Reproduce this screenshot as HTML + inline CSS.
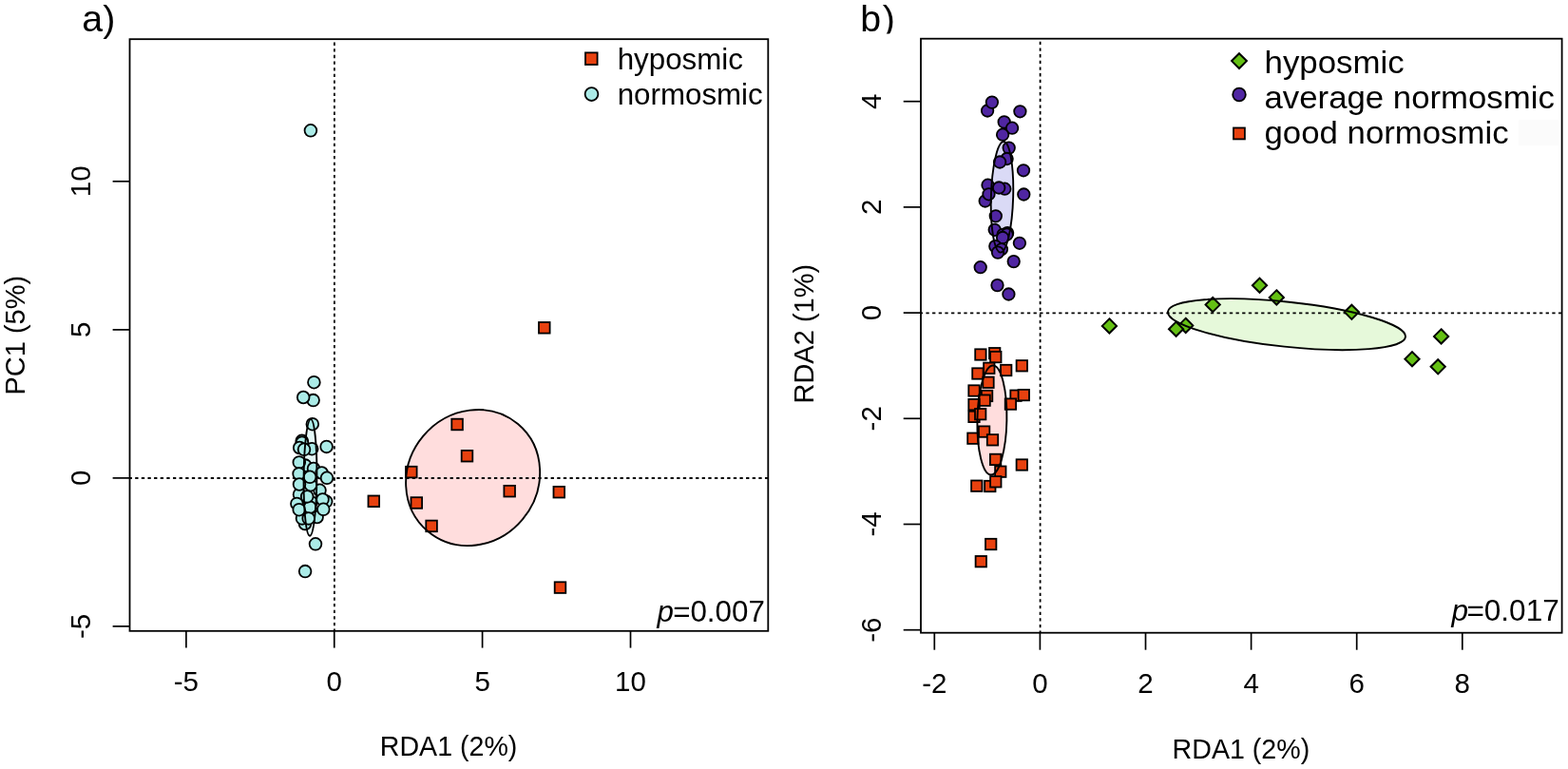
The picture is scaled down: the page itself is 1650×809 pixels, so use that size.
<!DOCTYPE html><html><head><meta charset="utf-8"><title>RDA plots</title>
<style>html,body{margin:0;padding:0;background:#fff;overflow:hidden;}svg{display:block;}text{font-family:'Liberation Sans', Arial, Helvetica, sans-serif;fill:#000;}</style></head><body>
<svg width="1650" height="809" viewBox="0 0 1650 809">
<defs>
<clipPath id="ca"><rect x="136.5" y="41.2" width="671.8" height="622.6"/></clipPath>
<clipPath id="cb"><rect x="969.0" y="40.7" width="674.6" height="625.0"/></clipPath>
<clipPath id="clb"><rect x="880" y="0" width="80" height="35.4"/></clipPath>
</defs>
<rect width="1650" height="809" fill="#fff"/>
<g clip-path="url(#ca)">
<ellipse cx="326.5" cy="502.4" rx="6.9" ry="61.3" transform="rotate(0.5 326.5 502.4)" fill="#e6f9f8"/>
<ellipse cx="497.65" cy="502.55" rx="73.7" ry="68.2" transform="rotate(-50 497.65 502.55)" fill="#ffdddd"/>
<line x1="351.9" y1="37.97" x2="351.9" y2="670.43" stroke="#000" stroke-width="1.8" stroke-dasharray="3.3 3.3340"/>
<line x1="135.59" y1="503.0" x2="814.93" y2="503.0" stroke="#000" stroke-width="1.8" stroke-dasharray="3.3 3.3275"/>
<circle cx="326.9" cy="137.3" r="6.35" fill="#abebe7" stroke="#000" stroke-width="1.8"/>
<circle cx="330.4" cy="402.2" r="6.35" fill="#abebe7" stroke="#000" stroke-width="1.8"/>
<circle cx="329.6" cy="421.1" r="6.35" fill="#abebe7" stroke="#000" stroke-width="1.8"/>
<circle cx="319.2" cy="418.0" r="6.35" fill="#abebe7" stroke="#000" stroke-width="1.8"/>
<circle cx="328.8" cy="446.2" r="6.35" fill="#abebe7" stroke="#000" stroke-width="1.8"/>
<circle cx="317.7" cy="463.8" r="6.35" fill="#abebe7" stroke="#000" stroke-width="1.8"/>
<circle cx="317.9" cy="465.6" r="6.35" fill="#abebe7" stroke="#000" stroke-width="1.8"/>
<circle cx="315.2" cy="471.0" r="6.35" fill="#abebe7" stroke="#000" stroke-width="1.8"/>
<circle cx="328.2" cy="472.2" r="6.35" fill="#abebe7" stroke="#000" stroke-width="1.8"/>
<circle cx="320.0" cy="472.8" r="6.35" fill="#abebe7" stroke="#000" stroke-width="1.8"/>
<circle cx="343.6" cy="469.9" r="6.35" fill="#abebe7" stroke="#000" stroke-width="1.8"/>
<circle cx="321.2" cy="489.6" r="6.35" fill="#abebe7" stroke="#000" stroke-width="1.8"/>
<circle cx="314.8" cy="486.4" r="6.35" fill="#abebe7" stroke="#000" stroke-width="1.8"/>
<circle cx="330.0" cy="493.0" r="6.35" fill="#abebe7" stroke="#000" stroke-width="1.8"/>
<circle cx="314.6" cy="498.4" r="6.35" fill="#abebe7" stroke="#000" stroke-width="1.8"/>
<circle cx="329.5" cy="540.0" r="6.35" fill="#abebe7" stroke="#000" stroke-width="1.8"/>
<circle cx="321.0" cy="551.0" r="6.35" fill="#abebe7" stroke="#000" stroke-width="1.8"/>
<circle cx="315.0" cy="520.2" r="6.35" fill="#abebe7" stroke="#000" stroke-width="1.8"/>
<circle cx="312.4" cy="529.9" r="6.35" fill="#abebe7" stroke="#000" stroke-width="1.8"/>
<circle cx="338.6" cy="497.5" r="6.35" fill="#abebe7" stroke="#000" stroke-width="1.8"/>
<circle cx="336.5" cy="515.8" r="6.35" fill="#abebe7" stroke="#000" stroke-width="1.8"/>
<circle cx="343.2" cy="527.6" r="6.35" fill="#abebe7" stroke="#000" stroke-width="1.8"/>
<circle cx="327.6" cy="528.4" r="6.35" fill="#abebe7" stroke="#000" stroke-width="1.8"/>
<circle cx="326.2" cy="533.6" r="6.35" fill="#abebe7" stroke="#000" stroke-width="1.8"/>
<circle cx="333.6" cy="544.0" r="6.35" fill="#abebe7" stroke="#000" stroke-width="1.8"/>
<circle cx="318.0" cy="545.4" r="6.35" fill="#abebe7" stroke="#000" stroke-width="1.8"/>
<circle cx="326.9" cy="510.2" r="6.35" fill="#abebe7" stroke="#000" stroke-width="1.8"/>
<circle cx="315.0" cy="509.5" r="6.35" fill="#abebe7" stroke="#000" stroke-width="1.8"/>
<circle cx="344.0" cy="502.8" r="6.35" fill="#abebe7" stroke="#000" stroke-width="1.8"/>
<circle cx="326.1" cy="501.8" r="6.35" fill="#abebe7" stroke="#000" stroke-width="1.8"/>
<circle cx="323.2" cy="522.4" r="6.35" fill="#abebe7" stroke="#000" stroke-width="1.8"/>
<circle cx="339.5" cy="525.4" r="6.35" fill="#abebe7" stroke="#000" stroke-width="1.8"/>
<circle cx="314.7" cy="536.2" r="6.35" fill="#abebe7" stroke="#000" stroke-width="1.8"/>
<circle cx="340.3" cy="535.8" r="6.35" fill="#abebe7" stroke="#000" stroke-width="1.8"/>
<circle cx="324.7" cy="545.4" r="6.35" fill="#abebe7" stroke="#000" stroke-width="1.8"/>
<circle cx="332.0" cy="572.3" r="6.35" fill="#abebe7" stroke="#000" stroke-width="1.8"/>
<circle cx="321.1" cy="601.1" r="6.35" fill="#abebe7" stroke="#000" stroke-width="1.8"/>
<rect x="567.0" y="339.0" width="11.6" height="11.6" fill="#e8410f" stroke="#000" stroke-width="1.8"/>
<rect x="475.3" y="440.7" width="11.6" height="11.6" fill="#e8410f" stroke="#000" stroke-width="1.8"/>
<rect x="485.7" y="473.9" width="11.6" height="11.6" fill="#e8410f" stroke="#000" stroke-width="1.8"/>
<rect x="427.0" y="490.8" width="11.6" height="11.6" fill="#e8410f" stroke="#000" stroke-width="1.8"/>
<rect x="530.4" y="510.9" width="11.6" height="11.6" fill="#e8410f" stroke="#000" stroke-width="1.8"/>
<rect x="582.5" y="511.9" width="11.6" height="11.6" fill="#e8410f" stroke="#000" stroke-width="1.8"/>
<rect x="387.5" y="521.5" width="11.6" height="11.6" fill="#e8410f" stroke="#000" stroke-width="1.8"/>
<rect x="432.5" y="523.2" width="11.6" height="11.6" fill="#e8410f" stroke="#000" stroke-width="1.8"/>
<rect x="448.3" y="547.6" width="11.6" height="11.6" fill="#e8410f" stroke="#000" stroke-width="1.8"/>
<rect x="583.7" y="612.3" width="11.6" height="11.6" fill="#e8410f" stroke="#000" stroke-width="1.8"/>
<ellipse cx="326.5" cy="502.4" rx="6.9" ry="61.3" transform="rotate(0.5 326.5 502.4)" fill="none" stroke="#000" stroke-width="1.9"/>
<ellipse cx="497.65" cy="502.55" rx="73.7" ry="68.2" transform="rotate(-50 497.65 502.55)" fill="none" stroke="#000" stroke-width="1.9"/>
</g>
<rect x="136.5" y="41.2" width="671.8" height="622.6" fill="none" stroke="#000" stroke-width="1.8"/>
<line x1="118.6" y1="190.8" x2="136.5" y2="190.8" stroke="#000" stroke-width="1.7"/>
<text x="95.2" y="190.8" font-size="29.5" text-anchor="middle" transform="rotate(-90 95.2 190.8)">10</text>
<line x1="118.6" y1="346.9" x2="136.5" y2="346.9" stroke="#000" stroke-width="1.7"/>
<text x="95.2" y="346.9" font-size="29.5" text-anchor="middle" transform="rotate(-90 95.2 346.9)">5</text>
<line x1="118.6" y1="502.9" x2="136.5" y2="502.9" stroke="#000" stroke-width="1.7"/>
<text x="95.2" y="502.9" font-size="29.5" text-anchor="middle" transform="rotate(-90 95.2 502.9)">0</text>
<line x1="118.6" y1="658.9" x2="136.5" y2="658.9" stroke="#000" stroke-width="1.7"/>
<text x="95.2" y="658.9" font-size="29.5" text-anchor="middle" transform="rotate(-90 95.2 658.9)">-5</text>
<line x1="195.9" y1="663.8" x2="195.9" y2="681.6" stroke="#000" stroke-width="1.7"/>
<text x="195.9" y="727.0" font-size="29.5" text-anchor="middle">-5</text>
<line x1="351.75" y1="663.8" x2="351.75" y2="681.6" stroke="#000" stroke-width="1.7"/>
<text x="351.75" y="727.0" font-size="29.5" text-anchor="middle">0</text>
<line x1="507.6" y1="663.8" x2="507.6" y2="681.6" stroke="#000" stroke-width="1.7"/>
<text x="507.6" y="727.0" font-size="29.5" text-anchor="middle">5</text>
<line x1="663.5" y1="663.8" x2="663.5" y2="681.6" stroke="#000" stroke-width="1.7"/>
<text x="663.5" y="727.0" font-size="29.5" text-anchor="middle">10</text>
<text x="472.1" y="795.4" font-size="28.6" text-anchor="middle">RDA1 (2%)</text>
<text x="26.3" y="352.7" font-size="29" text-anchor="middle" transform="rotate(-90 26.3 352.7)">PC1 (5%)</text>
<text x="86.3" y="33.3" font-size="39.3">a)</text>
<rect x="616.0" y="55.4" width="12.6" height="12.6" fill="#e8410f" stroke="#000" stroke-width="1.8"/>
<circle cx="622.5" cy="99.1" r="6.9" fill="#abebe7" stroke="#000" stroke-width="1.8"/>
<text x="649.7" y="73.0" font-size="31.3">hyposmic</text>
<text x="649.7" y="110.0" font-size="31.3">normosmic</text>
<text x="804.8" y="654.3" font-size="31.3" text-anchor="end"><tspan font-style="italic">p</tspan><tspan dx="-0.8">=0.007</tspan></text>
<g clip-path="url(#cb)">
<ellipse cx="1054.5" cy="207.3" rx="11.65" ry="58.3" transform="rotate(1.67 1054.5 207.3)" fill="#dadaf6"/>
<ellipse cx="1043.9" cy="442.0" rx="15.5" ry="57.5" transform="rotate(1.1 1043.9 442)" fill="#ffdddd"/>
<ellipse cx="1354" cy="341.2" rx="125.7" ry="23.6" transform="rotate(6.06 1354 341.2)" fill="#e6f9da"/>
<line x1="1094.6" y1="37.11" x2="1094.6" y2="672.37" stroke="#000" stroke-width="1.8" stroke-dasharray="3.3 3.3650"/>
<line x1="967.75" y1="329.3" x2="1650.26" y2="329.3" stroke="#000" stroke-width="1.8" stroke-dasharray="3.3 3.3554"/>
<circle cx="1039.1" cy="116.5" r="6.25" fill="#5026a2" stroke="#000" stroke-width="1.8"/>
<circle cx="1043.9" cy="107.6" r="6.25" fill="#5026a2" stroke="#000" stroke-width="1.8"/>
<circle cx="1073.4" cy="117.3" r="6.25" fill="#5026a2" stroke="#000" stroke-width="1.8"/>
<circle cx="1056.7" cy="128.4" r="6.25" fill="#5026a2" stroke="#000" stroke-width="1.8"/>
<circle cx="1065.1" cy="134.7" r="6.25" fill="#5026a2" stroke="#000" stroke-width="1.8"/>
<circle cx="1055.1" cy="141.7" r="6.25" fill="#5026a2" stroke="#000" stroke-width="1.8"/>
<circle cx="1061.7" cy="155.6" r="6.25" fill="#5026a2" stroke="#000" stroke-width="1.8"/>
<circle cx="1059.6" cy="167.0" r="6.25" fill="#5026a2" stroke="#000" stroke-width="1.8"/>
<circle cx="1052.1" cy="170.5" r="6.25" fill="#5026a2" stroke="#000" stroke-width="1.8"/>
<circle cx="1077.0" cy="179.3" r="6.25" fill="#5026a2" stroke="#000" stroke-width="1.8"/>
<circle cx="1039.5" cy="194.7" r="6.25" fill="#5026a2" stroke="#000" stroke-width="1.8"/>
<circle cx="1057.3" cy="198.7" r="6.25" fill="#5026a2" stroke="#000" stroke-width="1.8"/>
<circle cx="1051.2" cy="197.5" r="6.25" fill="#5026a2" stroke="#000" stroke-width="1.8"/>
<circle cx="1036.7" cy="211.5" r="6.25" fill="#5026a2" stroke="#000" stroke-width="1.8"/>
<circle cx="1040.5" cy="204.3" r="6.25" fill="#5026a2" stroke="#000" stroke-width="1.8"/>
<circle cx="1077.3" cy="204.5" r="6.25" fill="#5026a2" stroke="#000" stroke-width="1.8"/>
<circle cx="1047.8" cy="227.3" r="6.25" fill="#5026a2" stroke="#000" stroke-width="1.8"/>
<circle cx="1046.7" cy="241.8" r="6.25" fill="#5026a2" stroke="#000" stroke-width="1.8"/>
<circle cx="1060.1" cy="245.1" r="6.25" fill="#5026a2" stroke="#000" stroke-width="1.8"/>
<circle cx="1055.6" cy="246.8" r="6.25" fill="#5026a2" stroke="#000" stroke-width="1.8"/>
<circle cx="1059.5" cy="246.7" r="6.25" fill="#5026a2" stroke="#000" stroke-width="1.8"/>
<circle cx="1055.1" cy="250.0" r="6.25" fill="#5026a2" stroke="#000" stroke-width="1.8"/>
<circle cx="1072.9" cy="255.8" r="6.25" fill="#5026a2" stroke="#000" stroke-width="1.8"/>
<circle cx="1047.3" cy="259.1" r="6.25" fill="#5026a2" stroke="#000" stroke-width="1.8"/>
<circle cx="1053.9" cy="262.3" r="6.25" fill="#5026a2" stroke="#000" stroke-width="1.8"/>
<circle cx="1050.0" cy="265.6" r="6.25" fill="#5026a2" stroke="#000" stroke-width="1.8"/>
<circle cx="1066.7" cy="275.1" r="6.25" fill="#5026a2" stroke="#000" stroke-width="1.8"/>
<circle cx="1031.7" cy="281.2" r="6.25" fill="#5026a2" stroke="#000" stroke-width="1.8"/>
<circle cx="1049.5" cy="300.1" r="6.25" fill="#5026a2" stroke="#000" stroke-width="1.8"/>
<circle cx="1061.4" cy="309.5" r="6.25" fill="#5026a2" stroke="#000" stroke-width="1.8"/>
<rect x="1026.2" y="367.3" width="11.4" height="11.4" fill="#e8410f" stroke="#000" stroke-width="1.8"/>
<rect x="1041.0" y="366.0" width="11.4" height="11.4" fill="#e8410f" stroke="#000" stroke-width="1.8"/>
<rect x="1042.1" y="369.9" width="11.4" height="11.4" fill="#e8410f" stroke="#000" stroke-width="1.8"/>
<rect x="1069.6" y="379.1" width="11.4" height="11.4" fill="#e8410f" stroke="#000" stroke-width="1.8"/>
<rect x="1035.1" y="381.6" width="11.4" height="11.4" fill="#e8410f" stroke="#000" stroke-width="1.8"/>
<rect x="1053.0" y="383.8" width="11.4" height="11.4" fill="#e8410f" stroke="#000" stroke-width="1.8"/>
<rect x="1023.2" y="387.3" width="11.4" height="11.4" fill="#e8410f" stroke="#000" stroke-width="1.8"/>
<rect x="1034.3" y="396.6" width="11.4" height="11.4" fill="#e8410f" stroke="#000" stroke-width="1.8"/>
<rect x="1019.3" y="405.3" width="11.4" height="11.4" fill="#e8410f" stroke="#000" stroke-width="1.8"/>
<rect x="1032.9" y="410.8" width="11.4" height="11.4" fill="#e8410f" stroke="#000" stroke-width="1.8"/>
<rect x="1063.3" y="410.5" width="11.4" height="11.4" fill="#e8410f" stroke="#000" stroke-width="1.8"/>
<rect x="1071.6" y="409.9" width="11.4" height="11.4" fill="#e8410f" stroke="#000" stroke-width="1.8"/>
<rect x="1030.4" y="415.5" width="11.4" height="11.4" fill="#e8410f" stroke="#000" stroke-width="1.8"/>
<rect x="1057.7" y="419.4" width="11.4" height="11.4" fill="#e8410f" stroke="#000" stroke-width="1.8"/>
<rect x="1019.3" y="419.9" width="11.4" height="11.4" fill="#e8410f" stroke="#000" stroke-width="1.8"/>
<rect x="1019.3" y="432.7" width="11.4" height="11.4" fill="#e8410f" stroke="#000" stroke-width="1.8"/>
<rect x="1026.0" y="430.0" width="11.4" height="11.4" fill="#e8410f" stroke="#000" stroke-width="1.8"/>
<rect x="1029.9" y="448.4" width="11.4" height="11.4" fill="#e8410f" stroke="#000" stroke-width="1.8"/>
<rect x="1018.2" y="455.5" width="11.4" height="11.4" fill="#e8410f" stroke="#000" stroke-width="1.8"/>
<rect x="1038.8" y="457.1" width="11.4" height="11.4" fill="#e8410f" stroke="#000" stroke-width="1.8"/>
<rect x="1041.9" y="477.7" width="11.4" height="11.4" fill="#e8410f" stroke="#000" stroke-width="1.8"/>
<rect x="1069.6" y="483.3" width="11.4" height="11.4" fill="#e8410f" stroke="#000" stroke-width="1.8"/>
<rect x="1047.1" y="490.5" width="11.4" height="11.4" fill="#e8410f" stroke="#000" stroke-width="1.8"/>
<rect x="1036.1" y="505.8" width="11.4" height="11.4" fill="#e8410f" stroke="#000" stroke-width="1.8"/>
<rect x="1042.1" y="501.1" width="11.4" height="11.4" fill="#e8410f" stroke="#000" stroke-width="1.8"/>
<rect x="1022.1" y="505.5" width="11.4" height="11.4" fill="#e8410f" stroke="#000" stroke-width="1.8"/>
<rect x="1037.0" y="566.8" width="11.4" height="11.4" fill="#e8410f" stroke="#000" stroke-width="1.8"/>
<rect x="1026.6" y="585.0" width="11.4" height="11.4" fill="#e8410f" stroke="#000" stroke-width="1.8"/>
<polygon points="1167.4,335.3 1175.0,342.9 1167.4,350.5 1159.8,342.9" fill="#64c014" stroke="#000" stroke-width="2.0"/>
<polygon points="1247.7,334.8 1255.3,342.4 1247.7,350.0 1240.1,342.4" fill="#64c014" stroke="#000" stroke-width="2.0"/>
<polygon points="1237.6,338.6 1245.2,346.2 1237.6,353.8 1230.0,346.2" fill="#64c014" stroke="#000" stroke-width="2.0"/>
<polygon points="1276.2,313.0 1283.8,320.6 1276.2,328.2 1268.6,320.6" fill="#64c014" stroke="#000" stroke-width="2.0"/>
<polygon points="1325.5,292.6 1333.1,300.2 1325.5,307.8 1317.9,300.2" fill="#64c014" stroke="#000" stroke-width="2.0"/>
<polygon points="1343.3,305.3 1350.9,312.9 1343.3,320.5 1335.7,312.9" fill="#64c014" stroke="#000" stroke-width="2.0"/>
<polygon points="1422.4,320.7 1430.0,328.3 1422.4,335.9 1414.8,328.3" fill="#64c014" stroke="#000" stroke-width="2.0"/>
<polygon points="1516.6,346.3 1524.2,353.9 1516.6,361.5 1509.0,353.9" fill="#64c014" stroke="#000" stroke-width="2.0"/>
<polygon points="1486.0,370.1 1493.6,377.7 1486.0,385.3 1478.4,377.7" fill="#64c014" stroke="#000" stroke-width="2.0"/>
<polygon points="1513.2,378.2 1520.8,385.8 1513.2,393.4 1505.6,385.8" fill="#64c014" stroke="#000" stroke-width="2.0"/>
<ellipse cx="1054.5" cy="207.3" rx="11.65" ry="58.3" transform="rotate(1.67 1054.5 207.3)" fill="none" stroke="#000" stroke-width="1.9"/>
<ellipse cx="1043.9" cy="442.0" rx="15.5" ry="57.5" transform="rotate(1.1 1043.9 442)" fill="none" stroke="#000" stroke-width="1.9"/>
<ellipse cx="1354" cy="341.2" rx="125.7" ry="23.6" transform="rotate(6.06 1354 341.2)" fill="none" stroke="#000" stroke-width="1.9"/>
</g>
<rect x="969.0" y="40.7" width="674.6" height="625.0" fill="none" stroke="#000" stroke-width="1.8"/>
<line x1="950.7" y1="106.7" x2="969.0" y2="106.7" stroke="#000" stroke-width="1.7"/>
<text x="927.2" y="106.7" font-size="29.5" text-anchor="middle" transform="rotate(-90 927.2 106.7)">4</text>
<line x1="950.7" y1="217.9" x2="969.0" y2="217.9" stroke="#000" stroke-width="1.7"/>
<text x="927.2" y="217.9" font-size="29.5" text-anchor="middle" transform="rotate(-90 927.2 217.9)">2</text>
<line x1="950.7" y1="329.1" x2="969.0" y2="329.1" stroke="#000" stroke-width="1.7"/>
<text x="927.2" y="329.1" font-size="29.5" text-anchor="middle" transform="rotate(-90 927.2 329.1)">0</text>
<line x1="950.7" y1="440.3" x2="969.0" y2="440.3" stroke="#000" stroke-width="1.7"/>
<text x="927.2" y="440.3" font-size="29.5" text-anchor="middle" transform="rotate(-90 927.2 440.3)">-2</text>
<line x1="950.7" y1="551.5" x2="969.0" y2="551.5" stroke="#000" stroke-width="1.7"/>
<text x="927.2" y="551.5" font-size="29.5" text-anchor="middle" transform="rotate(-90 927.2 551.5)">-4</text>
<line x1="950.7" y1="662.7" x2="969.0" y2="662.7" stroke="#000" stroke-width="1.7"/>
<text x="927.2" y="662.7" font-size="29.5" text-anchor="middle" transform="rotate(-90 927.2 662.7)">-6</text>
<line x1="983.3" y1="665.7" x2="983.3" y2="683.7" stroke="#000" stroke-width="1.7"/>
<text x="983.3" y="728.8" font-size="29.5" text-anchor="middle">-2</text>
<line x1="1094.4" y1="665.7" x2="1094.4" y2="683.7" stroke="#000" stroke-width="1.7"/>
<text x="1094.4" y="728.8" font-size="29.5" text-anchor="middle">0</text>
<line x1="1205.5" y1="665.7" x2="1205.5" y2="683.7" stroke="#000" stroke-width="1.7"/>
<text x="1205.5" y="728.8" font-size="29.5" text-anchor="middle">2</text>
<line x1="1316.6" y1="665.7" x2="1316.6" y2="683.7" stroke="#000" stroke-width="1.7"/>
<text x="1316.6" y="728.8" font-size="29.5" text-anchor="middle">4</text>
<line x1="1427.7" y1="665.7" x2="1427.7" y2="683.7" stroke="#000" stroke-width="1.7"/>
<text x="1427.7" y="728.8" font-size="29.5" text-anchor="middle">6</text>
<line x1="1538.8" y1="665.7" x2="1538.8" y2="683.7" stroke="#000" stroke-width="1.7"/>
<text x="1538.8" y="728.8" font-size="29.5" text-anchor="middle">8</text>
<text x="1305.9" y="797.6" font-size="28.6" text-anchor="middle">RDA1 (2%)</text>
<text x="855.6" y="351.2" font-size="29" text-anchor="middle" transform="rotate(-90 855.6 351.2)">RDA2 (1%)</text>
<text x="905.2" y="33.1" font-size="39.3" clip-path="url(#clb)">b<tspan dx="1.6">)</tspan></text>
<rect x="1597.8" y="126.3" width="41.9" height="26.7" fill="#fbfbfb"/>
<polygon points="1304.0,56.2 1311.9,64.1 1304.0,72.0 1296.1,64.1" fill="#64c014" stroke="#000" stroke-width="2.0"/>
<circle cx="1304.0" cy="99.5" r="6.8" fill="#5026a2" stroke="#000" stroke-width="1.8"/>
<rect x="1298.0" y="134.5" width="11.9" height="11.9" fill="#e8410f" stroke="#000" stroke-width="1.8"/>
<text x="1330.5" y="76.5" font-size="32.6" textLength="147.2" lengthAdjust="spacingAndGlyphs">hyposmic</text>
<text x="1330.5" y="114.2" font-size="32.6" textLength="305.3" lengthAdjust="spacingAndGlyphs">average normosmic</text>
<text x="1330.5" y="151.2" font-size="32.6" textLength="257.1" lengthAdjust="spacingAndGlyphs">good normosmic</text>
<text x="1640.7" y="652.9" font-size="31.5" text-anchor="end"><tspan font-style="italic">p</tspan><tspan dx="-1.5">=0.017</tspan></text>
</svg></body></html>
